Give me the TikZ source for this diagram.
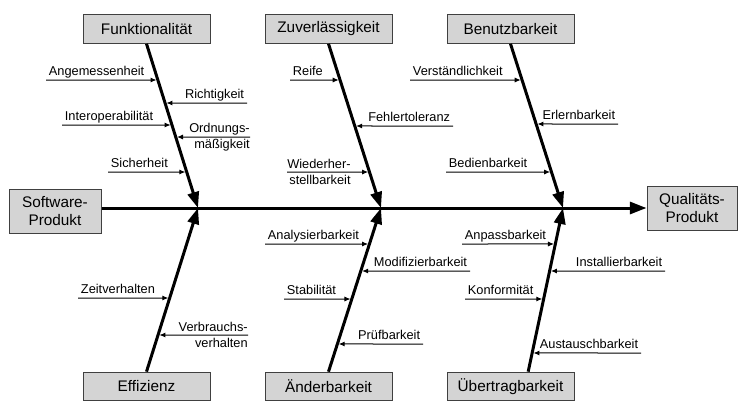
\documentclass[tikz,border=0pt]{standalone}
\usepackage{fontspec}
\setmainfont{Liberation Sans}
\usetikzlibrary{arrows.meta,positioning}

\begin{document}
\begin{tikzpicture}[x=0.75pt,y=-0.75pt,node distance=136.5pt,
                    box/.style={draw=black!75,fill=black!17,line width=0.75pt,
                      minimum width=95.25pt,minimum height=21.5pt,inner sep=1pt,
                      font=\fontsize{11.5}{13.5}\selectfont,align=center},
                    cause/.style={inner xsep=2pt,inner ysep=1pt,text depth=.25em,
                      font=\fontsize{9.6}{12.2}\selectfont},
                    causetwo/.style={inner sep=0pt,align=right,
                      font=\fontsize{9.6}{12.2}\selectfont},
                    spine/.style={line width=2.25pt,-{Triangle[length=12pt,width=8.5pt]}},
                    sub/.style={line width=0.75pt,shorten >=1pt,
                      -{Latex[length=4.5pt,width=3.8pt]}}]
  \useasboundingbox (0,0) rectangle (746,414);

  % main characteristics
  \node[box] (funk) at (146.5,29) {Funktionalität};
  \node[box] (zuver) [right of=funk] {Zuverlässigkeit};
  \node[box] (benutz) [right of=zuver] {Benutzbarkeit};
  \node[box] (effiz) at (146.5,386.5) {Effizienz};
  \node[box] (aender) [right of=effiz] {Änderbarkeit};
  \node[box] (uebertr) [right of=aender] {Übertragbarkeit};
  \node[box, minimum width=69pt, minimum height=33pt] (swprod) at (55,211) {Software-\\Produkt};
  \node[box, minimum width=67.5pt, minimum height=33pt] (qprod) at (692,208) {Qualitäts-\\Produkt};

  \coordinate (j1) at (198,208);
  \coordinate (j2) at (381,208);
  \coordinate (j3) at (563,208);

  % sub-characteristics
  \node[cause, anchor=south west] (angem) at (46,80) {Angemessenheit};
  \node[cause, anchor=south east] (richt) at (247,103) {Richtigkeit};
  \node[cause, anchor=south west] (interop) at (62,125) {Interoperabilität};
  \node[causetwo, anchor=east] (ordn) at (250,137) {Ordnungs-\\mäßigkeit};
  \node[cause, anchor=south west] (sicher) at (108,172) {Sicherheit};

  \node[cause, anchor=south west] (reife) at (290,80) {Reife};
  \node[cause, anchor=south east] (fehler) at (453,126) {Fehlertoleranz};
  \node[causetwo, anchor=west] (wieder) at (287,172) {Wiederher-\\stellbarkeit};

  \node[cause, anchor=south west] (verst) at (410,80) {Verständlichkeit};
  \node[cause, anchor=south east] (erlern) at (618,124) {Erlernbarkeit};
  \node[cause, anchor=south west] (bedien) at (446,172) {Bedienbarkeit};

  \node[cause, anchor=south west] (zeitv) at (78,298) {Zeitverhalten};
  \node[causetwo, anchor=east] (verbr) at (248,335) {Verbrauchs-\\verhalten};

  \node[cause, anchor=south west] (analys) at (265,244) {Analysierbarkeit};
  \node[cause, anchor=south east] (modif) at (470,271) {Modifizierbarkeit};
  \node[cause, anchor=south west] (stabil) at (284,299) {Stabilität};
  \node[cause, anchor=south east] (pruef) at (423,344) {Prüfbarkeit};

  \node[cause, anchor=south west] (anpass) at (462,244) {Anpassbarkeit};
  \node[cause, anchor=south east] (install) at (665,271) {Installierbarkeit};
  \node[cause, anchor=south west] (konform) at (465,299) {Konformität};
  \node[cause, anchor=south east] (austausch) at (641,353) {Austauschbarkeit};

  % backbone and bones
  \draw[spine, -{Triangle[length=12.5pt,width=9pt]}] (swprod.east |- j1) -- (qprod.west);
  \draw[spine] (funk.south) -- (j1);
  \draw[spine] (zuver.south) -- (j2);
  \draw[spine] (benutz.south) -- (j3);
  \draw[spine] (effiz.north) -- (j1);
  \draw[spine] (aender.north) -- (j2);
  \draw[spine] (uebertr.40) -- (j3);

  \path[sub] (angem.south west) edge (intersection of funk.south--j1 and angem.south west--angem.south east)
        (richt.south east) edge (intersection of funk.south--j1 and richt.south west--richt.south east)
        (interop.south west) edge (intersection of funk.south--j1 and interop.south west--interop.south east)
        (ordn.east) edge (intersection of funk.south--j1 and ordn.west--ordn.east)
        (sicher.south west) edge (intersection of funk.south--j1 and sicher.south west--sicher.south east)
        (reife.south west) edge (intersection of zuver.south--j2 and reife.south west--reife.south east)
        (fehler.south east) edge (intersection of zuver.south--j2 and fehler.south west--fehler.south east)
        (wieder.west) edge (intersection of zuver.south--j2 and wieder.west--wieder.east)
        (verst.south west) edge (intersection of benutz.south--j3 and verst.south west--verst.south east)
        (erlern.south east) edge (intersection of benutz.south--j3 and erlern.south west--erlern.south east)
        (bedien.south west) edge (intersection of benutz.south--j3 and bedien.south west--bedien.south east)
        (zeitv.south west) edge (intersection of effiz.north--j1 and zeitv.south west--zeitv.south east)
        (verbr.east) edge (intersection of effiz.north--j1 and verbr.west--verbr.east)
        (analys.south west) edge (intersection of aender.north--j2 and analys.south west--analys.south east)
        (modif.south east) edge (intersection of aender.north--j2 and modif.south west--modif.south east)
        (stabil.south west) edge (intersection of aender.north--j2 and stabil.south west--stabil.south east)
        (pruef.south east) edge (intersection of aender.north--j2 and pruef.south west--pruef.south east)
        (anpass.south west) edge (intersection of uebertr.40--j3 and anpass.south west--anpass.south east)
        (install.south east) edge (intersection of uebertr.40--j3 and install.south west--install.south east)
        (konform.south west) edge (intersection of uebertr.40--j3 and konform.south west--konform.south east)
        (austausch.south east) edge (intersection of uebertr.40--j3 and austausch.south west--austausch.south east);
\end{tikzpicture}
\end{document}
